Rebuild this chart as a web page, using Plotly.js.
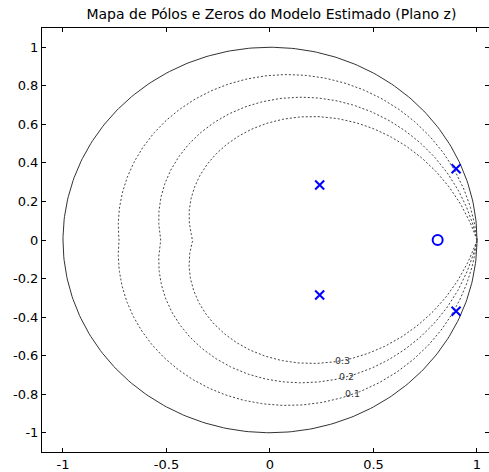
<!DOCTYPE html>
<html>
<head>
<meta charset="utf-8">
<script src="https://cdn.plot.ly/plotly-3.0.1.min.js"></script>
<style>html,body{margin:0;padding:0;background:#fff;}#chart{width:489px;height:472px;}</style>
</head>
<body>
<div id="chart"></div>
<script>
// Poles and zeros (real, imaginary parts)
var poleRe = [0.240, 0.240, 0.899, 0.899];
var poleIm = [0.285, -0.285, 0.370, -0.370];
var zeroRe = [0.810];
var zeroIm = [0.0];
// zgrid damping ratios drawn
var dampRatios = [0.1, 0.2, 0.3];
var dampLabels = ['0.1', '0.2', '0.3'];
var xTicks = [-1, -0.5, 0, 0.5, 1];
var yTicks = [-1, -0.8, -0.6, -0.4, -0.2, 0, 0.2, 0.4, 0.6, 0.8, 1];

var traces = [];
// unit circle
var cx = [], cy = [];
for (var i = 0; i <= 360; i++) {
  var a = i * Math.PI / 180;
  cx.push(Math.cos(a)); cy.push(Math.sin(a));
}
traces.push({x: cx, y: cy, mode: 'lines', line: {color: '#333', width: 1}, hoverinfo: 'skip', showlegend: false});

// constant damping curves z = exp(sT)
dampRatios.forEach(function (z) {
  var k = z / Math.sqrt(1 - z * z);
  var xs = [], ys = [];
  var n = 200;
  for (var j = 0; j <= n; j++) {
    var th = Math.PI * j / n;
    var r = Math.exp(-k * th);
    xs.push(r * Math.cos(th)); ys.push(r * Math.sin(th));
  }
  for (var j = n; j >= 0; j--) {
    var th = Math.PI * j / n;
    var r = Math.exp(-k * th);
    xs.push(r * Math.cos(th)); ys.push(-r * Math.sin(th));
  }
  traces.push({x: xs, y: ys, mode: 'lines', line: {color: '#444', width: 1, dash: '2px,2px'}, hoverinfo: 'skip', showlegend: false});
});

traces.push({x: poleRe, y: poleIm, mode: 'markers', marker: {symbol: 'x-thin-open', size: 9, color: '#0000ff', line: {color: '#0000ff', width: 2}}, showlegend: false});
traces.push({x: zeroRe, y: zeroIm, mode: 'markers', marker: {symbol: 'circle-open', size: 10, color: '#0000ff', line: {color: '#0000ff', width: 2}}, showlegend: false});

// label positions along the lower half of each damping curve
var labelPos = {'0.1': [0.398, -0.796], '0.2': [0.371, -0.706], '0.3': [0.351, -0.626]};
var annotations = dampLabels.map(function (t) {
  return {x: labelPos[t][0], y: labelPos[t][1], text: t, showarrow: false, font: {family: 'DejaVu Sans, sans-serif', size: 9.5, color: '#333'}, xanchor: 'center', yanchor: 'middle'};
});

var layout = {
  width: 489, height: 472,
  margin: {l: 42, r: 0, t: 28, b: 20, pad: 0},
  paper_bgcolor: '#fff', plot_bgcolor: '#fff',
  title: {text: 'Mapa de Pólos e Zeros do Modelo Estimado (Plano z)', font: {family: 'DejaVu Sans, sans-serif', size: 14, color: '#000'}, x: 0.555, xanchor: 'center', y: 0.97, yanchor: 'middle'},
  font: {family: 'DejaVu Sans, sans-serif', size: 13, color: '#000'},
  xaxis: {range: [-1.1014, 1.058], tickvals: xTicks, ticktext: xTicks.map(String), ticks: 'inside', ticklen: 4, tickcolor: '#000', showline: true, linecolor: '#000', linewidth: 1, mirror: 'ticks', showgrid: false, zeroline: false, fixedrange: true},
  yaxis: {range: [-1.1, 1.1], tickvals: yTicks, ticktext: yTicks.map(String), ticks: 'inside', ticklen: 4, tickcolor: '#000', showline: true, linecolor: '#000', linewidth: 1, mirror: 'ticks', showgrid: false, zeroline: false, fixedrange: true},
  annotations: annotations,
  showlegend: false
};
Plotly.newPlot('chart', traces, layout, {displayModeBar: false, staticPlot: true});
</script>
</body>
</html>
